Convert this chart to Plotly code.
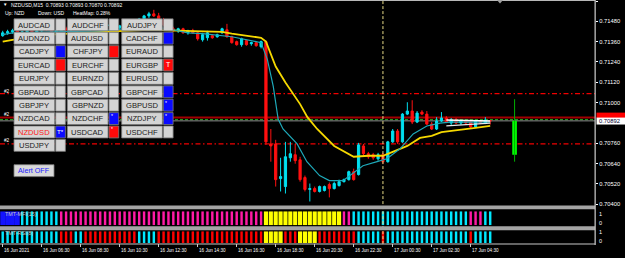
import plotly.graph_objects as go

W, H = 625, 258
PLOT_R = 595  # right edge (px) of the chart area

# ---------------- data ----------------
bar_idx = list(range(101))
open_ = [0.71395, 0.71412, 0.71418, 0.71424, 0.71407, 0.71418, 0.71436, 0.71418, 0.71424, 0.71442,
         0.71430, 0.71418, 0.71424, 0.71436, 0.71430, 0.71436, 0.71448, 0.71442, 0.71436, 0.71442,
         0.71453, 0.71448, 0.71453, 0.71459, 0.71442, 0.71453, 0.71465, 0.71471, 0.71483, 0.71494,
         0.71512, 0.71524, 0.71512, 0.71489, 0.71459, 0.71436, 0.71424, 0.71436, 0.71412, 0.71424,
         0.71412, 0.71371, 0.71383, 0.71395, 0.71389, 0.71412, 0.71430, 0.71389, 0.71360, 0.71342,
         0.71366, 0.71348, 0.71354, 0.71330, 0.71360, 0.70756, 0.70756, 0.70551, 0.70504, 0.70674,
         0.70692, 0.70662, 0.70557, 0.70487, 0.70492, 0.70475, 0.70481, 0.70516, 0.70492, 0.70510,
         0.70533, 0.70545, 0.70592, 0.70575, 0.70744, 0.70698, 0.70692, 0.70668, 0.70692, 0.70651,
         0.70768, 0.70832, 0.70768, 0.70932, 0.70950, 0.70885, 0.70944, 0.70932, 0.70873, 0.70844,
         0.70891, 0.70909, 0.70879, 0.70897, 0.70879, 0.70891, 0.70885, 0.70856, 0.70891, 0.70879,
         0.70893]
high = [0.71424, 0.71430, 0.71436, 0.71430, 0.71424, 0.71442, 0.71442, 0.71430, 0.71448, 0.71453,
        0.71436, 0.71430, 0.71442, 0.71448, 0.71442, 0.71453, 0.71459, 0.71453, 0.71448, 0.71459,
        0.71465, 0.71459, 0.71465, 0.71471, 0.71459, 0.71471, 0.71477, 0.71489, 0.71500, 0.71518,
        0.71536, 0.71548, 0.71530, 0.71500, 0.71471, 0.71448, 0.71442, 0.71442, 0.71430, 0.71436,
        0.71418, 0.71412, 0.71424, 0.71401, 0.71407, 0.71442, 0.71465, 0.71395, 0.71366, 0.71383,
        0.71371, 0.71360, 0.71360, 0.71366, 0.71366, 0.70844, 0.70780, 0.70674, 0.70768, 0.70768,
        0.70756, 0.70680, 0.70569, 0.70522, 0.70504, 0.70510, 0.70510, 0.70528, 0.70533, 0.70545,
        0.70551, 0.70598, 0.70610, 0.70762, 0.70756, 0.70709, 0.70703, 0.70703, 0.70703, 0.70774,
        0.70844, 0.70844, 0.70938, 0.71002, 0.71014, 0.70950, 0.70955, 0.70950, 0.70885, 0.70914,
        0.70944, 0.70920, 0.70909, 0.70909, 0.70897, 0.70897, 0.70891, 0.70897, 0.70897, 0.70914,
        0.70893]
low = [0.71389, 0.71401, 0.71407, 0.71401, 0.71395, 0.71412, 0.71412, 0.71407, 0.71418, 0.71424,
       0.71412, 0.71401, 0.71418, 0.71424, 0.71418, 0.71430, 0.71436, 0.71430, 0.71424, 0.71436,
       0.71442, 0.71436, 0.71442, 0.71436, 0.71430, 0.71442, 0.71453, 0.71459, 0.71471, 0.71483,
       0.71500, 0.71506, 0.71483, 0.71453, 0.71430, 0.71418, 0.71412, 0.71407, 0.71401, 0.71407,
       0.71366, 0.71360, 0.71366, 0.71377, 0.71383, 0.71407, 0.71383, 0.71348, 0.71336, 0.71330,
       0.71336, 0.71336, 0.71330, 0.71320, 0.70750, 0.70651, 0.70504, 0.70475, 0.70463, 0.70651,
       0.70639, 0.70533, 0.70475, 0.70416, 0.70469, 0.70469, 0.70475, 0.70440, 0.70487, 0.70504,
       0.70528, 0.70539, 0.70539, 0.70569, 0.70680, 0.70668, 0.70662, 0.70657, 0.70639, 0.70645,
       0.70762, 0.70756, 0.70762, 0.70926, 0.70873, 0.70879, 0.70926, 0.70868, 0.70838, 0.70838,
       0.70885, 0.70879, 0.70868, 0.70873, 0.70868, 0.70873, 0.70844, 0.70850, 0.70873, 0.70873,
       0.70870]
close = [0.71412, 0.71418, 0.71424, 0.71407, 0.71418, 0.71436, 0.71418, 0.71424, 0.71442, 0.71430,
         0.71418, 0.71424, 0.71436, 0.71430, 0.71436, 0.71448, 0.71442, 0.71436, 0.71442, 0.71453,
         0.71448, 0.71453, 0.71459, 0.71442, 0.71453, 0.71465, 0.71471, 0.71483, 0.71494, 0.71512,
         0.71524, 0.71512, 0.71489, 0.71459, 0.71436, 0.71424, 0.71436, 0.71412, 0.71424, 0.71412,
         0.71377, 0.71401, 0.71412, 0.71383, 0.71401, 0.71436, 0.71389, 0.71354, 0.71342, 0.71377,
         0.71342, 0.71354, 0.71336, 0.71360, 0.70768, 0.70744, 0.70545, 0.70563, 0.70680, 0.70698,
         0.70657, 0.70545, 0.70487, 0.70492, 0.70475, 0.70504, 0.70504, 0.70492, 0.70522, 0.70533,
         0.70545, 0.70592, 0.70545, 0.70750, 0.70698, 0.70680, 0.70674, 0.70692, 0.70651, 0.70768,
         0.70832, 0.70768, 0.70932, 0.70950, 0.70885, 0.70938, 0.70932, 0.70873, 0.70844, 0.70891,
         0.70909, 0.70885, 0.70897, 0.70879, 0.70891, 0.70879, 0.70856, 0.70891, 0.70879, 0.70897,
         0.70892]

yellow_ma_idx = [0, 2, 10, 20, 30, 38, 41, 45, 47, 51, 53, 54, 56, 58, 61, 62.5, 64.5, 68, 72, 75,
                 78, 80, 83, 85.6, 88, 90, 92, 94, 97, 100]
yellow_ma = [0.71360, 0.71371, 0.71401, 0.71418, 0.71430, 0.71424, 0.71418, 0.71418, 0.71407, 0.71389,
             0.71383, 0.71360, 0.71213, 0.71119, 0.70991, 0.70914, 0.70844, 0.70744, 0.70680, 0.70686,
             0.70686, 0.70709, 0.70744, 0.70791, 0.70803, 0.70826, 0.70832, 0.70838, 0.70850, 0.70862]
teal_ma_idx = [0, 2, 10, 20, 30, 34, 38, 41, 47, 51, 53, 54.3, 55.5, 56.5, 57.5, 60.4, 62.4, 65, 67, 69.8,
               71.8, 73.9, 76.8, 78.8, 81.5, 84.2, 87, 89.7, 91.8, 96, 100]
teal_ma = [0.71401, 0.71412, 0.71418, 0.71424, 0.71448, 0.71436, 0.71412, 0.71407, 0.71389, 0.71366,
           0.71354, 0.71254, 0.71096, 0.70903, 0.70844, 0.70756, 0.70651, 0.70569, 0.70539, 0.70539,
           0.70580, 0.70627, 0.70651, 0.70668, 0.70727, 0.70815, 0.70862, 0.70879, 0.70885, 0.70885,
           0.70885]

wedge_idx = [91, 100]
wedge_upper = [0.70897, 0.70891]
wedge_lower = [0.70862, 0.70879]

daily_idx = [105]
daily_open = [0.70692]
daily_high = [0.71020]
daily_low = [0.70651]
daily_close = [0.70892]

dashdot_levels = [0.71053, 0.70756]
resist_level = [0.70912]
green_level = [0.70899]
level_tags = ["#2", "#2", "#2"]
level_tag_prices = [0.71068, 0.70927, 0.70774]
vline_idx = [78]

# 0.70880 sits behind the current-price tag, so it is not listed
price_ticks = [0.71600, 0.71480, 0.71360, 0.71240, 0.71120, 0.71000, 0.70760, 0.70640,
               0.70520, 0.70400]
time_tick_idx = [0, 8, 16, 24, 32, 40, 48, 56, 64, 72, 80, 88, 96]
time_labels = ["16 Jun 2021", "16 Jun 06:30", "16 Jun 08:30", "16 Jun 10:30", "16 Jun 12:30",
               "16 Jun 14:30", "16 Jun 16:30", "16 Jun 18:30", "16 Jun 20:30", "16 Jun 22:30",
               "17 Jun 00:30", "17 Jun 02:30", "17 Jun 04:30"]

mfi_runs = [("B", 4), ("C", 8), ("M", 42), ("Y", 16), ("M", 2), ("C", 24), ("M", 3), ("C", 2)]
rsi_runs = [("C", 12), ("R", 3), ("C", 2), ("R", 11), ("C", 4), ("R", 22), ("Y", 4), ("R", 3),
            ("Y", 4), ("R", 8), ("C", 5), ("R", 1), ("C", 17), ("R", 1), ("C", 4)]

symbol = "NZDUSD,M15"
info_up, info_down, heatmap = "NZD", "USD", "0.28%"

btn_cols = [
    ["AUDCAD", "AUDNZD", "CADJPY", "EURCAD", "EURJPY", "GBPAUD", "GBPJPY", "NZDCAD", "NZDUSD", "USDJPY"],
    ["AUDCHF", "AUDUSD", "CHFJPY", "EURCHF", "EURNZD", "GBPCAD", "GBPNZD", "NZDCHF", "USDCAD"],
    ["AUDJPY", "CADCHF", "EURAUD", "EURGBP", "EURUSD", "GBPCHF", "GBPUSD", "NZDJPY", "USDCHF"],
]
btn_state = [
    ["g", "g", "b", "r", "g", "g", "g", "g", "b", "g"],
    ["g", "g", "r", "g", "g", "g", "g", "b", "r"],
    ["g", "b", "g", "r", "g", "b", "b", "b", "g"],
]
btn_mark = [
    ["", "", "", "", "", "", "", "", "T*", ""],
    ["", "", "", "", "", "", "", "*", "*"],
    ["", "", "", "T", "", "", "*", "*", ""],
]
current_symbol = "NZDUSD"

# ---------------- styling ----------------
FONT = "Liberation Sans, Arial, sans-serif"
BULL, BEAR = "#00e0f0", "#ff1010"
state_color = {"B": "#1414ff", "C": "#00e8ff", "M": "#ff1aa6", "Y": "#ffff00", "R": "#ff0000"}
state_width = {"B": 1.0, "C": 0.5, "M": 0.5, "Y": 0.85, "R": 0.5}
sq_color = {"g": "#d4d4d4", "b": "#0a0aff", "r": "#ff0a0a"}


def px(x):
    return x / W


def py(y):
    return 1 - y / H


def expand(runs):
    out = []
    for s, n in runs:
        out += [s] * n
    return out


mfi_state = expand(mfi_runs)
rsi_state = expand(rsi_runs)

fig = go.Figure()

# main chart
fig.add_trace(go.Scatter(x=[daily_idx[0], daily_idx[0]], y=[daily_high[0], daily_low[0]], mode="lines",
                         line=dict(color="#00b000", width=1), yaxis="y", hoverinfo="skip"))
fig.add_trace(go.Bar(x=daily_idx, base=daily_open, y=[c - o for o, c in zip(daily_open, daily_close)],
                     width=[0.95], marker=dict(color="#00ff00", line=dict(width=0)), yaxis="y"))
fig.add_trace(go.Candlestick(x=bar_idx, open=open_, high=high, low=low, close=close, yaxis="y",
                             increasing=dict(line=dict(color=BULL, width=1), fillcolor=BULL),
                             decreasing=dict(line=dict(color=BEAR, width=1), fillcolor=BEAR),
                             whiskerwidth=0))
fig.add_trace(go.Scatter(x=yellow_ma_idx, y=yellow_ma, mode="lines", line=dict(color="#f5d800", width=1.8),
                         yaxis="y"))
fig.add_trace(go.Scatter(x=teal_ma_idx, y=teal_ma, mode="lines", line=dict(color="#1ea8b8", width=1.2),
                         yaxis="y"))
fig.add_trace(go.Scatter(x=wedge_idx, y=wedge_upper, mode="lines", line=dict(color="#ffffff", width=1.5),
                         yaxis="y"))
fig.add_trace(go.Scatter(x=wedge_idx, y=wedge_lower, mode="lines", line=dict(color="#e8e8e8", width=1.2),
                         yaxis="y"))

# sub-windows
fig.add_trace(go.Bar(x=bar_idx, y=[1.0 for _ in mfi_state], base=0,
                     marker=dict(color=[state_color[s] for s in mfi_state], line=dict(width=0)),
                     width=[state_width[s] for s in mfi_state], yaxis="y2"))
fig.add_trace(go.Bar(x=bar_idx, y=[1.0 for _ in rsi_state], base=0,
                     marker=dict(color=[state_color[s] for s in rsi_state], line=dict(width=0)),
                     width=[state_width[s] for s in rsi_state], yaxis="y3"))

x_left = -2.7 / 4.875
x_right = (PLOT_R - 2.7) / 4.875

fig.update_layout(
    width=W, height=H, margin=dict(l=0, r=0, t=0, b=0),
    paper_bgcolor="#000000", plot_bgcolor="#000000",
    showlegend=False, barmode="overlay", boxgap=0.35,
    xaxis=dict(domain=[0, PLOT_R / W], range=[x_left, x_right], anchor="y3",
               showgrid=False, zeroline=False, showline=False, showticklabels=False,
               ticks="outside", ticklen=3, tickcolor="#c8c8c8", tickwidth=1,
               tickvals=time_tick_idx, rangeslider=dict(visible=False)),
    yaxis=dict(domain=[py(207), 1], range=[0.703928, 0.716059], anchor="x", side="right",
               showgrid=False, zeroline=False, showline=False,
               tickvals=price_ticks, ticktext=["%.5f" % t for t in price_ticks],
               ticks="outside", ticklen=2, tickcolor="#ffffff",
               tickfont=dict(family=FONT, size=5.8, color="#ffffff")),
    yaxis2=dict(domain=[py(227), py(213)], range=[0, 1], anchor="x", showgrid=False,
                zeroline=False, showticklabels=False),
    yaxis3=dict(domain=[py(245), py(233)], range=[0, 1], anchor="x", showgrid=False,
                zeroline=False, showticklabels=False),
)

shapes = []
annotations = []


def rect(x0, y0, x1, y1, fill, line=None, lw=0, layer="above"):
    shapes.append(dict(type="rect", xref="paper", yref="paper", x0=px(x0), x1=px(x1),
                       y0=py(y1), y1=py(y0), fillcolor=fill,
                       line=dict(color=line or fill, width=lw), layer=layer))


def text(x, y, s, size, color, anchor="left", family=FONT):
    annotations.append(dict(xref="paper", yref="paper", x=px(x), y=py(y), text=s, showarrow=False,
                            xanchor=anchor, yanchor="middle", borderpad=0,
                            font=dict(family=family, size=size, color=color)))


# horizontal level lines
for lv in dashdot_levels:
    shapes.append(dict(type="line", xref="paper", yref="y", x0=0, x1=px(PLOT_R), y0=lv, y1=lv,
                       line=dict(color="#f00000", width=1.2, dash="5px,2.5px,1.5px,2.5px"), layer="below"))
for lv in resist_level:
    shapes.append(dict(type="line", xref="paper", yref="y", x0=0, x1=px(PLOT_R), y0=lv, y1=lv,
                       line=dict(color="#a00000", width=2), layer="below"))
for lv in green_level:
    shapes.append(dict(type="line", xref="paper", yref="y", x0=0, x1=px(PLOT_R), y0=lv, y1=lv,
                       line=dict(color="#1a9a1a", width=1.3, dash="3px,2px"), layer="below"))
shapes.append(dict(type="line", xref="paper", yref="y", x0=0, x1=px(PLOT_R), y0=close[-1], y1=close[-1],
                   line=dict(color="#8a8a8a", width=1), layer="below"))

# vertical dashed line
for vx in vline_idx:
    shapes.append(dict(type="line", xref="x", yref="paper", x0=vx, x1=vx, y0=py(246), y1=1,
                       line=dict(color="#e8dc88", width=1, dash="3px,2px"), layer="above"))

# frame: separators, borders
rect(0, 207, PLOT_R, 211, "#a4a4a4")
rect(0, 228, PLOT_R, 232, "#a4a4a4")
rect(0, 0, PLOT_R, 1, "#b8b8b8")
rect(0, 245.5, PLOT_R, 246.5, "#c8c8c8")
rect(PLOT_R - 0.5, 0, PLOT_R + 0.8, 247, "#c0c0c0")
shapes.append(dict(type="path", xref="paper", yref="paper",
                   path="M %f %f L %f %f L %f %f Z" % (px(497), py(0), px(503), py(0), px(500), py(3.5)),
                   fillcolor="#a0a0a0", line=dict(width=0), layer="above"))

# price tag on the right
rect(596.5, 113.5, 625, 119, "#ff0000")
rect(596.5, 118.5, 625, 125.5, "#ffffff")
text(598, 122.2, "%.5f" % close[-1], 5.8, "#000030")

# header text
text(2, 5, "▼", 4.5, "#ffffff")
text(9.5, 5, "%s  %.5f %.5f %.5f %.5f" % (symbol, open_[-1], high[-1], low[-1], close[-1]), 5.0, "#ffffff")
text(4, 13.5, "Up: " + info_up, 5.0, "#ffffff")
text(37, 13.5, "Down: " + info_down, 5.0, "#ffffff")
text(72, 13.5, "HeatMap: " + heatmap, 5.0, "#ffffff")

# level tags
for tag, lp in zip(level_tags, level_tag_prices):
    annotations.append(dict(xref="paper", yref="y", x=px(3), y=lp, text=tag, showarrow=False,
                            xanchor="left", yanchor="middle", borderpad=0,
                            font=dict(family=FONT, size=4.6, color="#ffffff")))

# button panel
col_x = [14, 67.3, 121.7]
btn_w, sq_w, btn_h, row_top0, row_pitch = 40.7, 9.7, 12, 19, 13.5
for c, names in enumerate(btn_cols):
    for r, name in enumerate(names):
        x0 = col_x[c]
        y0 = row_top0 + r * row_pitch
        rect(x0, y0, x0 + btn_w, y0 + btn_h, "#d4d4d4", "#7c7c7c", 0.8)
        sx = x0 + btn_w + 1
        rect(sx, y0, sx + sq_w, y0 + btn_h, sq_color[btn_state[c][r]], "#7c7c7c", 0.8)
        col = "#ff1a1a" if name == current_symbol else "#202020"
        text(x0 + btn_w / 2, y0 + btn_h / 2 + 0.3, name, 7.6, col, anchor="center")
        mk = btn_mark[c][r]
        if mk == "T":
            text(sx + sq_w / 2, y0 + btn_h / 2, "T", 7, "#ffffff", anchor="center")
        elif mk == "T*":
            text(sx + 0.8, y0 + btn_h / 2, "T*", 6.2, "#ffffff")
        elif mk == "*":
            text(sx + 1, y0 + 3.5, "*", 5, "#ffffff")

rect(14, 166, 54, 178, "#d8d8d8", "#7c7c7c", 0.8)
text(34, 172.3, "Alert OFF", 7.2, "#2020ff", anchor="center")

# sub-window labels
text(4, 215.5, "TMT-MFI(15)", 5.4, "#c8c8c8")
text(4, 235, "TMT-RSI(8)", 5.4, "#c8c8c8")
text(598, 215.5, "1", 5.5, "#ffffff")
text(598, 224.5, "0", 5.5, "#ffffff")
text(598, 234, "1", 5.5, "#ffffff")
text(598, 243, "0", 5.5, "#ffffff")

# time axis labels
for ti, lab in zip(time_tick_idx, time_labels):
    annotations.append(dict(xref="x", yref="paper", x=ti, y=py(252), text=lab, showarrow=False,
                            xanchor="left", yanchor="middle", borderpad=0, xshift=0.5,
                            font=dict(family=FONT, size=4.6, color="#ffffff")))

fig.update_layout(shapes=shapes, annotations=annotations)
fig.write_html("out.html")
